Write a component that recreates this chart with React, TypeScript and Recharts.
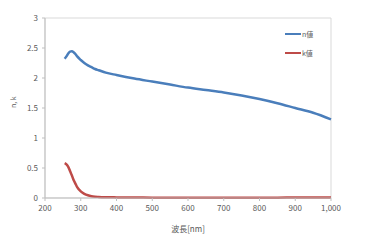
import { LineChart, Line, XAxis, YAxis, ReferenceArea } from 'recharts';

// wavelength [nm]
const wavelengths = [255, 260, 265, 270, 275, 280, 285, 290, 300, 310, 320, 330, 340, 350, 370, 400, 450, 500, 550, 600, 650, 700, 750, 800, 850, 900, 950, 1000];
const nValues = [2.32, 2.36, 2.41, 2.44, 2.445, 2.43, 2.4, 2.36, 2.3, 2.25, 2.21, 2.18, 2.15, 2.13, 2.09, 2.05, 1.99, 1.94, 1.89, 1.84, 1.8, 1.76, 1.71, 1.65, 1.58, 1.5, 1.42, 1.31];
const kValues = [0.58, 0.56, 0.52, 0.45, 0.38, 0.3, 0.24, 0.18, 0.11, 0.07, 0.045, 0.03, 0.022, 0.018, 0.013, 0.01, 0.008, 0.006, 0.005, 0.005, 0.005, 0.005, 0.005, 0.006, 0.006, 0.007, 0.008, 0.01];
const xTicks = [200, 300, 400, 500, 600, 700, 800, 900, 1000];
const yTicks = [0, 0.5, 1, 1.5, 2, 2.5, 3];
const seriesNames = ['n値', 'k値'];

const data = wavelengths.map((w, i) => ({ w, n: nValues[i], k: kValues[i] }));

const FONT = '"Noto Sans CJK JP", "Noto Sans", sans-serif';
const BLUE = '#4a7ebb';
const RED = '#be4b48';

// legend sits inside the plot area, top right
function LegendBox() {
  const colors = [BLUE, RED];
  return (
    <div style={{ position: 'absolute', left: 285, top: 24, fontFamily: FONT, fontSize: 7, color: '#595959' }}>
      {seriesNames.map((label, i) => (
        <div key={label} style={{ display: 'flex', alignItems: 'center', height: 19 }}>
          <span style={{ display: 'inline-block', width: 16, height: 2, background: colors[i], marginRight: 1 }} />
          <span>{label}</span>
        </div>
      ))}
    </div>
  );
}

export default function App() {
  return (
    <div style={{ position: 'absolute', left: 0, top: 0, width: 370, height: 248, background: '#fff' }}>
      <LineChart width={370} height={248} data={data} margin={{ top: 18, right: 39, bottom: 0, left: 0 }}>
        <ReferenceArea x1={200} x2={1000} y1={0} y2={3} fill="none" stroke="#d9d9d9" ifOverflow="visible" />
        <XAxis
          dataKey="w"
          type="number"
          domain={[200, 1000]}
          ticks={xTicks}
          tickFormatter={(v: number) => (v === 1000 ? '1,000' : String(v))}
          height={50}
          stroke="#bfbfbf"
          tickSize={3}
          tickMargin={4}
          tick={{ fill: '#595959', fontSize: 8, fontFamily: FONT }}
          label={{ value: '波長[nm]', position: 'insideBottom', offset: 16, fill: '#595959', fontSize: 8, fontFamily: FONT }}
        />
        <YAxis
          type="number"
          domain={[0, 3]}
          ticks={yTicks}
          width={45}
          stroke="#bfbfbf"
          tickSize={3}
          tickMargin={4}
          tick={{ fill: '#595959', fontSize: 8, fontFamily: FONT }}
          label={{ value: 'n, k', angle: -90, position: 'insideLeft', offset: 14, fill: '#595959', fontSize: 7, fontFamily: FONT }}
        />
        <Line type="monotone" dataKey="n" stroke={BLUE} strokeWidth={2.5} dot={false} isAnimationActive={false} />
        <Line type="monotone" dataKey="k" stroke={RED} strokeWidth={2.5} dot={false} isAnimationActive={false} />
      </LineChart>
      <LegendBox />
    </div>
  );
}
